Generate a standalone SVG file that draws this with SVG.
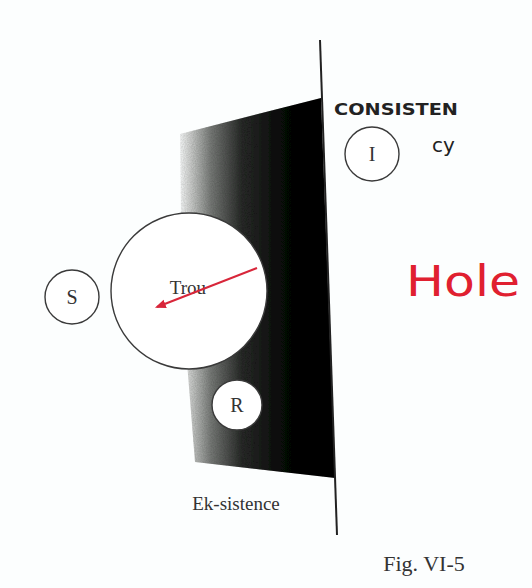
<svg xmlns="http://www.w3.org/2000/svg" width="532" height="588" viewBox="0 0 532 588">
  <defs>
    <linearGradient id="shade" x1="180" y1="0" x2="335" y2="0" gradientUnits="userSpaceOnUse">
      <stop offset="0" stop-color="#fcfefe"/>
      <stop offset="0.06" stop-color="#d6d8d6"/>
      <stop offset="0.2" stop-color="#7a7d7a"/>
      <stop offset="0.4" stop-color="#2a2c2a"/>
      <stop offset="0.65" stop-color="#121312"/>
      <stop offset="1" stop-color="#080908"/>
    </linearGradient>
    <filter id="grain" x="0" y="0" width="1" height="1">
      <feTurbulence type="fractalNoise" baseFrequency="0.9" numOctaves="2" seed="3" result="n"/>
      <feColorMatrix in="n" type="matrix" values="0 0 0 0 0  0 0 0 0 0  0 0 0 0 0  0 0 0 0.35 0" result="dots"/>
      <feComposite in="dots" in2="SourceGraphic" operator="in" result="clip"/>
      <feMerge><feMergeNode in="SourceGraphic"/><feMergeNode in="clip"/></feMerge>
    </filter>
    <marker id="arrow" viewBox="0 0 10 10" refX="8" refY="5" markerWidth="5" markerHeight="5" orient="auto">
      <path d="M0,1 L10,5 L0,9 z" fill="#d8263a"/>
    </marker>
  </defs>
  <style>
    .ring { fill: #ffffff; stroke: #3a3a3a; stroke-width: 1.4; }
    .lbl { font-family: "Liberation Serif", "DejaVu Serif", serif; fill: #333; text-anchor: middle; }
    .hand { font-family: "DejaVu Sans", "Liberation Sans", sans-serif; fill: #222; }
  </style>
  <rect width="532" height="588" fill="#fcfefe"/>

  <g id="ek-sistence-region">
    <polygon points="180,134 321,98 335,478 195,462 182,300" fill="url(#shade)" filter="url(#grain)"/>
  </g>

  <g id="axis">
    <line x1="320" y1="40" x2="337" y2="535" stroke="#222" stroke-width="2"/>
  </g>

  <g id="trou">
    <circle class="ring" cx="189" cy="291" r="78"/>
    <text class="lbl" x="188" y="294" font-size="19">Trou</text>
  </g>

  <g id="S">
    <circle class="ring" cx="72" cy="297" r="27"/>
    <text class="lbl" x="72" y="304" font-size="20">S</text>
  </g>

  <g id="R">
    <circle class="ring" cx="237" cy="405" r="25"/>
    <text class="lbl" x="237" y="412" font-size="20">R</text>
  </g>

  <g id="I">
    <circle class="ring" cx="372" cy="154" r="27"/>
    <text class="lbl" x="372" y="161" font-size="20">I</text>
  </g>

  <g id="connectors">
    <line x1="257" y1="268" x2="157" y2="307" stroke="#d8263a" stroke-width="2.2" marker-end="url(#arrow)"/>
  </g>

  <g id="labels">
    <text class="hand" x="334" y="115" font-size="15" font-weight="bold" textLength="124" lengthAdjust="spacingAndGlyphs">CONSISTEN</text>
    <text class="hand" x="432" y="152" font-size="20">cy</text>
    <text x="406" y="296" font-family="DejaVu Sans, sans-serif" font-size="42" fill="#e02030" textLength="114" lengthAdjust="spacingAndGlyphs">Hole</text>
    <text class="lbl" x="236" y="510" font-size="19">Ek-sistence</text>
    <text class="lbl" x="424" y="571" font-size="22">Fig. VI-5</text>
  </g>
</svg>
